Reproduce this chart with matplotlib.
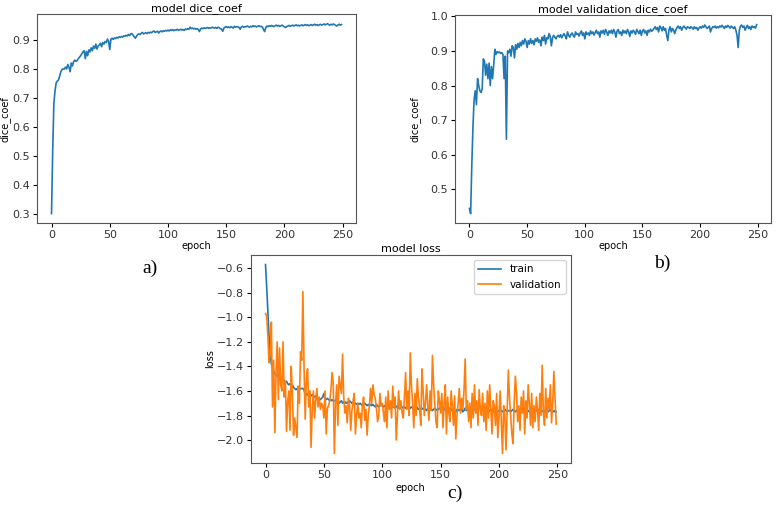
import matplotlib
matplotlib.use('Agg')
import matplotlib.pyplot as plt
import numpy as np

# training dice coefficient per epoch
train_dice = [
    0.303, 0.52, 0.68, 0.725, 0.752, 0.758, 0.762, 0.775, 0.79, 0.798,
    0.80, 0.799, 0.806, 0.80, 0.815, 0.805, 0.79, 0.82, 0.81, 0.825,
    0.83, 0.826, 0.828, 0.835, 0.84, 0.845, 0.852, 0.858, 0.862, 0.835,
    0.86, 0.845, 0.865, 0.858, 0.872, 0.862, 0.878, 0.87, 0.885, 0.868,
    0.878, 0.882, 0.888, 0.876, 0.89, 0.885, 0.894, 0.89, 0.902, 0.895,
    0.866, 0.902, 0.905, 0.901, 0.906, 0.904, 0.908, 0.906, 0.91, 0.908,
    0.911, 0.909, 0.913, 0.912, 0.915, 0.913, 0.918, 0.914, 0.92, 0.921,
    0.916, 0.91, 0.905, 0.912, 0.918, 0.92, 0.918, 0.922, 0.925, 0.92,
    0.922, 0.924, 0.921, 0.925, 0.923, 0.926, 0.924, 0.928, 0.93, 0.925,
    0.927, 0.929, 0.923, 0.928, 0.93, 0.927, 0.931, 0.929, 0.932, 0.93,
    0.933, 0.93, 0.934, 0.932, 0.935, 0.931, 0.934, 0.933, 0.936, 0.932,
    0.934, 0.936, 0.933, 0.935, 0.932, 0.937, 0.935, 0.938, 0.936, 0.943,
    0.938, 0.94, 0.937, 0.939, 0.936, 0.938, 0.935, 0.928, 0.937, 0.94,
    0.938, 0.941, 0.939, 0.94, 0.942, 0.939, 0.941, 0.94, 0.943, 0.941,
    0.94, 0.942, 0.939, 0.943, 0.941, 0.938, 0.936, 0.929, 0.94, 0.943,
    0.945, 0.942, 0.944, 0.941, 0.945, 0.943, 0.94, 0.946, 0.943, 0.945,
    0.944, 0.942, 0.936, 0.944, 0.946, 0.943, 0.945, 0.944, 0.947, 0.945,
    0.943, 0.946, 0.944, 0.948, 0.945, 0.947, 0.944, 0.946, 0.948, 0.945,
    0.946, 0.944, 0.935, 0.928, 0.942, 0.947, 0.945, 0.948, 0.946, 0.949,
    0.947, 0.945, 0.948, 0.95, 0.947, 0.949, 0.946, 0.948, 0.95, 0.947,
    0.944, 0.942, 0.945, 0.947, 0.949, 0.946, 0.948, 0.95, 0.947, 0.949,
    0.951, 0.948, 0.95, 0.947, 0.949, 0.951, 0.948, 0.95, 0.952, 0.949,
    0.951, 0.948, 0.95, 0.952, 0.949, 0.951, 0.953, 0.95, 0.952, 0.949,
    0.951, 0.953, 0.95, 0.952, 0.954, 0.951, 0.953, 0.955, 0.952, 0.95,
    0.953, 0.951, 0.954, 0.952, 0.949, 0.947, 0.951, 0.953, 0.95, 0.952,
]

# validation dice coefficient per epoch (panel b)
val_dice = [
    0.445, 0.43, 0.57, 0.68, 0.76, 0.785, 0.745, 0.82, 0.80, 0.785,
    0.78, 0.79, 0.877, 0.87, 0.83, 0.862, 0.82, 0.865, 0.80, 0.855,
    0.82, 0.86, 0.905, 0.89, 0.898, 0.895, 0.897, 0.893, 0.895, 0.89,
    0.82, 0.885, 0.645, 0.90, 0.895, 0.905, 0.885, 0.915, 0.91, 0.88,
    0.918, 0.905, 0.922, 0.91, 0.925, 0.915, 0.93, 0.92, 0.935, 0.928,
    0.91, 0.93, 0.92, 0.935, 0.922, 0.93, 0.918, 0.935, 0.928, 0.938,
    0.925, 0.932, 0.915, 0.94, 0.93, 0.945, 0.92, 0.938, 0.935, 0.95,
    0.942, 0.915, 0.938, 0.945, 0.94, 0.935, 0.942, 0.945, 0.94, 0.947,
    0.938, 0.945, 0.95, 0.943, 0.935, 0.955, 0.945, 0.94, 0.948, 0.952,
    0.945, 0.94, 0.955, 0.948, 0.95, 0.943, 0.952, 0.958, 0.945, 0.952,
    0.935, 0.955, 0.948, 0.952, 0.945, 0.958, 0.95, 0.955, 0.946, 0.953,
    0.96, 0.95, 0.955, 0.94, 0.958, 0.952, 0.96, 0.948, 0.962, 0.955,
    0.945, 0.958, 0.952, 0.96, 0.95, 0.962, 0.955, 0.94, 0.958, 0.962,
    0.95, 0.955, 0.945, 0.96, 0.952, 0.958, 0.95, 0.962, 0.955, 0.942,
    0.958, 0.952, 0.96, 0.955, 0.948, 0.962, 0.956, 0.95, 0.96, 0.945,
    0.958, 0.962, 0.952, 0.958, 0.945, 0.96, 0.955, 0.963, 0.957, 0.96,
    0.965, 0.97, 0.962, 0.968, 0.955, 0.972, 0.968, 0.958, 0.97, 0.96,
    0.965, 0.945, 0.93, 0.962, 0.97, 0.955, 0.965, 0.96, 0.95, 0.962,
    0.968, 0.972, 0.965, 0.97, 0.96, 0.968, 0.972, 0.967, 0.963, 0.97,
    0.968, 0.965, 0.97, 0.967, 0.963, 0.97, 0.965, 0.968, 0.96, 0.966,
    0.97, 0.966, 0.972, 0.968, 0.975, 0.97, 0.965, 0.968, 0.972, 0.955,
    0.965, 0.97, 0.968, 0.972, 0.966, 0.97, 0.967, 0.972, 0.969, 0.974,
    0.97, 0.965, 0.972, 0.968, 0.974, 0.97, 0.966, 0.972, 0.968, 0.965,
    0.97, 0.96, 0.945, 0.91, 0.96, 0.972, 0.975, 0.968, 0.972, 0.96,
    0.968, 0.974, 0.965, 0.97, 0.962, 0.972, 0.968, 0.97, 0.966, 0.976,
]

# loss curves (panel c)
train_loss = [
    -0.57, -0.75, -0.95, -1.15, -1.30, -1.38, -1.42, -1.44, -1.46, -1.47,
    -1.48, -1.46, -1.50, -1.49, -1.51, -1.50, -1.52, -1.53, -1.52, -1.54,
    -1.55, -1.54, -1.56, -1.55, -1.57, -1.58, -1.59, -1.58, -1.60, -1.59,
    -1.58, -1.58, -1.58, -1.59, -1.63, -1.62, -1.63, -1.64, -1.63, -1.64,
    -1.63, -1.64, -1.65, -1.64, -1.65, -1.66, -1.66, -1.67, -1.66, -1.65,
    -1.62, -1.66, -1.67, -1.66, -1.67, -1.68, -1.67, -1.68, -1.67, -1.68,
    -1.68, -1.69, -1.68, -1.70, -1.69, -1.68, -1.70, -1.69, -1.69, -1.70,
    -1.69, -1.70, -1.68, -1.69, -1.70, -1.71, -1.70, -1.70, -1.71, -1.70,
    -1.71, -1.70, -1.71, -1.72, -1.71, -1.70, -1.71, -1.72, -1.71, -1.72,
    -1.71, -1.72, -1.71, -1.72, -1.73, -1.71, -1.72, -1.73, -1.72, -1.72,
    -1.72, -1.73, -1.72, -1.73, -1.72, -1.73, -1.74, -1.73, -1.72, -1.73,
    -1.73, -1.74, -1.73, -1.72, -1.74, -1.73, -1.74, -1.73, -1.74, -1.73,
    -1.74, -1.73, -1.74, -1.75, -1.74, -1.73, -1.74, -1.75, -1.74, -1.72,
    -1.74, -1.75, -1.74, -1.75, -1.74, -1.75, -1.74, -1.75, -1.76, -1.74,
    -1.75, -1.74, -1.75, -1.76, -1.75, -1.74, -1.75, -1.76, -1.75, -1.74,
    -1.75, -1.76, -1.75, -1.74, -1.76, -1.75, -1.76, -1.75, -1.74, -1.75,
    -1.76, -1.75, -1.76, -1.77, -1.75, -1.76, -1.75, -1.76, -1.75, -1.77,
    -1.76, -1.74, -1.76, -1.75, -1.76, -1.77, -1.76, -1.75, -1.76, -1.75,
    -1.76, -1.75, -1.74, -1.73, -1.72, -1.74, -1.75, -1.76, -1.75, -1.76,
    -1.76, -1.77, -1.76, -1.75, -1.76, -1.77, -1.76, -1.75, -1.76, -1.77,
    -1.76, -1.75, -1.76, -1.77, -1.76, -1.75, -1.76, -1.77, -1.76, -1.76,
    -1.77, -1.76, -1.75, -1.76, -1.77, -1.76, -1.75, -1.76, -1.77, -1.76,
    -1.77, -1.76, -1.75, -1.76, -1.77, -1.76, -1.77, -1.76, -1.75, -1.77,
    -1.76, -1.77, -1.76, -1.75, -1.76, -1.74, -1.77, -1.76, -1.77, -1.76,
    -1.77, -1.76, -1.77, -1.76, -1.75, -1.77, -1.76, -1.77, -1.76, -1.77,
]

val_loss = [
    -0.97, -0.99, -1.15, -1.37, -1.30, -1.04, -1.73, -1.35, -1.94, -1.45,
    -1.20, -1.67, -1.25, -1.55, -1.60, -1.20, -1.65, -1.52, -1.93, -1.68,
    -1.60, -1.92, -1.40, -1.62, -1.96, -1.82, -1.90, -1.98, -1.56, -1.70,
    -1.28, -1.35, -0.79, -1.40, -1.83, -1.50, -1.42, -1.73, -1.60, -2.06,
    -1.75, -1.60, -1.82, -1.68, -1.58, -1.73, -1.65, -1.75, -1.70, -1.72,
    -1.82, -1.60, -1.95, -1.74, -1.72, -1.68, -1.60, -1.45, -1.53, -2.11,
    -1.70, -1.55, -1.88, -1.48, -1.55, -1.62, -1.30, -1.65, -1.78, -1.72,
    -1.86, -1.66, -1.72, -1.92, -1.76, -1.68, -1.62, -1.95, -1.80, -1.70,
    -1.82, -1.78, -1.90, -1.72, -1.65, -1.84, -1.75, -1.96, -1.80, -1.72,
    -1.58, -1.70, -1.55, -1.63, -1.66, -1.74, -1.85, -1.80, -1.62, -1.72,
    -1.70, -1.78, -1.85, -1.65, -1.90, -1.60, -1.75, -1.68, -1.82, -1.56,
    -1.73, -1.65, -2.00, -1.80, -1.60, -1.75, -1.68, -1.78, -1.82, -1.65,
    -1.45, -1.75, -1.60, -1.80, -1.29, -1.55, -1.70, -1.90, -1.62, -1.80,
    -1.50, -1.65, -1.75, -1.88, -1.42, -1.60, -1.80, -1.70, -1.55, -1.72,
    -1.84, -1.60, -1.76, -1.31, -1.55, -1.70, -1.85, -1.90, -1.60, -1.68,
    -1.78, -1.62, -1.90, -1.70, -1.55, -1.95, -1.65, -1.78, -1.85, -1.60,
    -1.72, -1.88, -1.64, -1.99, -1.80, -1.70, -1.58, -1.78, -1.66, -1.75,
    -1.60, -1.34, -1.75, -1.68, -1.85, -1.70, -1.90, -1.62, -1.82, -1.55,
    -1.78, -1.68, -1.88, -1.59, -1.75, -1.80, -1.62, -1.85, -1.70, -1.92,
    -1.60, -1.82, -1.55, -1.75, -1.95, -1.68, -1.72, -1.88, -1.62, -1.98,
    -1.80, -1.60, -1.85, -2.11, -1.72, -1.80, -2.08, -1.75, -1.43, -1.66,
    -1.80, -1.95, -2.03, -1.70, -1.48, -1.62, -1.85, -1.72, -1.92, -1.65,
    -1.78, -1.60, -1.95, -1.68, -1.82, -1.55, -1.70, -1.88, -1.62, -1.90,
    -1.72, -1.85, -1.65, -1.75, -1.92, -1.62, -1.80, -1.39, -1.78, -1.88,
    -1.58, -1.82, -1.66, -1.75, -1.55, -1.86, -1.70, -1.44, -1.65, -1.87,
]

epoch_ticks = [0, 50, 100, 150, 200, 250]
dice_ticks_a = [0.3, 0.4, 0.5, 0.6, 0.7, 0.8, 0.9]
dice_ticks_b = [0.5, 0.6, 0.7, 0.8, 0.9, 1.0]
loss_ticks = [-2.0, -1.8, -1.6, -1.4, -1.2, -1.0, -0.8, -0.6]

epochs = np.arange(len(train_dice))

fig = plt.figure(figsize=(7.78, 5.07), dpi=100)

tick_fs = 8
label_fs = 7
title_fs = 8
lw = 1.2


def style_axes(ax, title, ylabel, yticks, ylab_x, xlab_y):
    ax.set_title(title, fontsize=title_fs, pad=2)
    ax.set_xlabel('epoch', fontsize=label_fs)
    ax.set_ylabel(ylabel, fontsize=label_fs)
    ax.xaxis.set_label_coords(0.5, xlab_y)
    ax.yaxis.set_label_coords(ylab_x, 0.5)
    ax.tick_params(labelsize=tick_fs, length=3, pad=2, labelcolor='#333333')
    ax.set_xticks(epoch_ticks)
    ax.set_yticks(yticks)
    ax.set_yticklabels([f'{t:.1f}'.replace('-', '\u2212') for t in yticks])
    for s in ax.spines.values():
        s.set_color('#555555')


# a) training dice
ax1 = fig.add_axes([0.0476, 0.560, 0.410, 0.412])
ax1.plot(epochs, train_dice, color='#1f77b4', lw=lw)
style_axes(ax1, 'model dice_coef', 'dice_coef', dice_ticks_a, -0.082, -0.088)

# b) validation dice
ax2 = fig.add_axes([0.585, 0.560, 0.406, 0.410])
ax2.plot(epochs, val_dice, color='#1f77b4', lw=lw)
style_axes(ax2, 'model validation dice_coef', 'dice_coef', dice_ticks_b, -0.111, -0.088)

# c) loss
ax3 = fig.add_axes([0.3226, 0.0868, 0.411, 0.410])
ax3.plot(epochs, train_loss, color='#1f77b4', lw=lw, label='train')
ax3.plot(epochs, val_loss, color='#ff7f0e', lw=lw, label='validation')
style_axes(ax3, 'model loss', 'loss', loss_ticks, -0.112, -0.096)
ax3.legend(loc='upper right', fontsize=7.5, handlelength=2.2)

# panel letters
serif = ['Liberation Serif', 'DejaVu Serif']
fig.text(150 / 778, 1 - 268 / 507, 'a)', fontsize=14, family=serif, ha='center', va='center')
fig.text(662 / 778, 1 - 263 / 507, 'b)', fontsize=14, family=serif, ha='center', va='center')
fig.text(455 / 778, 1 - 493 / 507, 'c)', fontsize=14, family=serif, ha='center', va='center')

fig.savefig('out.png', dpi=100)
